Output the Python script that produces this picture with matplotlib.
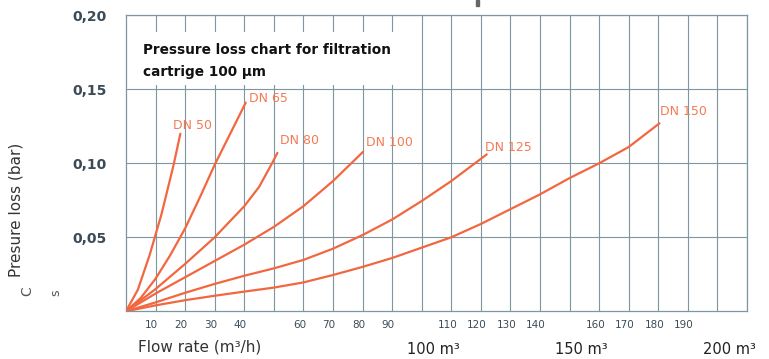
import matplotlib
matplotlib.use("Agg")
import matplotlib.pyplot as plt
from matplotlib.patches import Rectangle

# flow rate (m3/h) and pressure loss (bar)
dn50_x = [0, 4, 8, 12, 16, 18.4]
dn50_y = [0, 0.0145, 0.038, 0.0655, 0.098, 0.120]

dn65_x = [0, 5, 10, 15, 20, 25, 30, 35, 40.5]
dn65_y = [0, 0.009, 0.022, 0.038, 0.056, 0.077, 0.099, 0.119, 0.141]

dn80_x = [0, 10, 20, 30, 40, 45, 49.4, 51.2]
dn80_y = [0, 0.015, 0.032, 0.050, 0.071, 0.084, 0.100, 0.107]

dn100_x = [0, 10, 20, 30, 40, 50, 60, 70, 80.2]
dn100_y = [0, 0.012, 0.023, 0.034, 0.045, 0.057, 0.071, 0.088, 0.1078]

dn125_x = [0, 10, 20, 30, 40, 50, 60, 70, 80, 90, 100, 110, 122]
dn125_y = [0, 0.006, 0.0125, 0.0185, 0.024, 0.029, 0.0347, 0.0423, 0.0515,
           0.062, 0.0745, 0.088, 0.106]

dn150_x = [0, 10, 20, 30, 40, 50, 60, 70, 80, 90, 100, 110, 120, 130, 140,
           150, 160, 170, 180.4]
dn150_y = [0, 0.004, 0.0075, 0.0105, 0.0133, 0.016, 0.0195, 0.0245, 0.030,
           0.036, 0.043, 0.050, 0.059, 0.069, 0.079, 0.090, 0.100, 0.111, 0.127]

labels = ["DN 50", "DN 65", "DN 80", "DN 100", "DN 125", "DN 150"]
label_x = [15.9, 41.7, 52.2, 81, 121.4, 180.7]
label_y = [0.1257, 0.1439, 0.1155, 0.114, 0.111, 0.135]

x_ticks = [10, 20, 30, 40, 60, 70, 80, 90, 110, 120, 130, 140, 160, 170, 180, 190]
y_ticks = [0.05, 0.10, 0.15, 0.20]
y_tick_labels = ["0,05", "0,10", "0,15", "0,20"]
big_ticks = [100, 150, 200]

line_c = "#f2673f"
grid_c = "#7d96a2"
tick_c = "#3b4b57"

fig = plt.figure(figsize=(7.69, 3.59), dpi=100)
ax = fig.add_axes([0.1638, 0.1329, 0.8076, 0.8245])

series = [(dn50_x, dn50_y), (dn65_x, dn65_y), (dn80_x, dn80_y),
          (dn100_x, dn100_y), (dn125_x, dn125_y), (dn150_x, dn150_y)]
for (xs, ys), lab, lx, ly in zip(series, labels, label_x, label_y):
    ax.plot(xs, ys, color=line_c, lw=1.6, solid_capstyle="round",
            solid_joinstyle="round", zorder=3)
    ax.text(lx, ly, lab, color="#f47a55", fontsize=9, va="center", ha="left", zorder=4)

ax.set_xlim(0, 210)
ax.set_ylim(0, 0.20)
ax.set_xticks(range(10, 211, 10))
ax.set_yticks(y_ticks)
ax.grid(True, color=grid_c, lw=0.8)
ax.set_axisbelow(True)
for s in ax.spines.values():
    s.set_color(grid_c)
    s.set_linewidth(0.9)
ax.tick_params(length=0)
ax.set_xticklabels([])
ax.set_yticklabels(y_tick_labels, fontsize=10, fontweight="bold", color=tick_c)
ax.tick_params(axis="y", pad=14)

# sparse flow rate labels under the grid
for t in x_ticks:
    ax.text(t - 1.3, -0.0095, str(t), ha="center", va="center", fontsize=7.5,
            color=tick_c, clip_on=False)
for t in big_ticks:
    ax.text(t + 4, -0.026, f"{t} m³", ha="center", va="center", fontsize=10.5,
            color="#222222", clip_on=False)

ax.text(4, -0.024, "Flow rate (m³/h)", ha="left", va="center", fontsize=11,
        color="#333333", clip_on=False)

# title box
ax.add_patch(Rectangle((0.02, 0.764), 0.445, 0.18, transform=ax.transAxes,
                       fc="white", ec="none", zorder=2))
ax.text(0.027, 0.883, "Pressure loss chart for filtration", transform=ax.transAxes,
        ha="left", va="center", fontsize=9.8, fontweight="bold", color="#111111", zorder=5)
ax.text(0.027, 0.807, "cartrige 100 µm", transform=ax.transAxes,
        ha="left", va="center", fontsize=9.8, fontweight="bold", color="#111111", zorder=5)

fig.text(0.021, 0.415, "Presure loss (bar)", rotation=90, ha="center", va="center",
         fontsize=11, color="#333333")
fig.text(0.036, 0.19, "C", rotation=90, ha="center", va="center", fontsize=10,
         color="#555555")
fig.text(0.073, 0.185, "s", rotation=90, ha="center", va="center", fontsize=9,
         color="#555555")
fig.patches.append(Rectangle((0.619, 0.983), 0.004, 0.017, transform=fig.transFigure,
                             color="#666666"))

fig.savefig("out.png", dpi=100)
